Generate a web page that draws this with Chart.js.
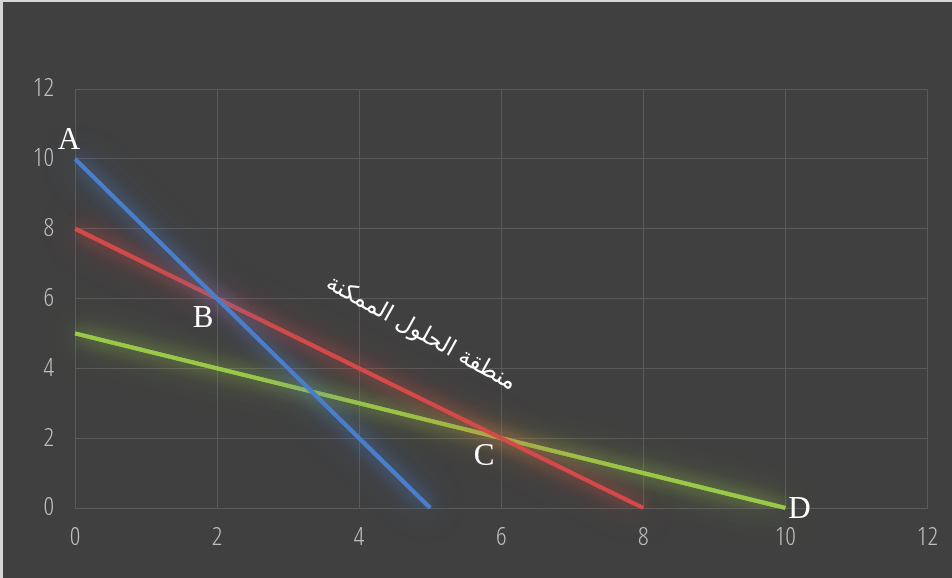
<!DOCTYPE html>
<html>
<head>
<meta charset="utf-8">
<script src="https://cdn.jsdelivr.net/npm/chart.js@4.4.1/dist/chart.umd.min.js"></script>
<style>
  html, body { margin: 0; padding: 0; background: #d6d6d6; }
  #wrap { position: absolute; left: 3px; top: 2px; width: 949px; height: 576px; background: #404040; }
</style>
</head>
<body>
<div id="wrap"><canvas id="c"></canvas></div>
<script>
// Constraint lines, each given by its two intercepts
const blueX = [0, 5];
const blueY = [10, 0];
const redX = [0, 8];
const redY = [8, 0];
const greenX = [0, 10];
const greenY = [5, 0];

// Axis ticks
const xTicks = [0, 2, 4, 6, 8, 10, 12];
const yTicks = [0, 2, 4, 6, 8, 10, 12];

// Corner points of the feasible region
const cornerNames = ['A', 'B', 'C', 'D'];
const cornerX = [0, 2, 6, 10];
const cornerY = [10, 6, 2, 0];

// Region caption and where it sits (data units)
const regionText = 'منطقة الحلول الممكنة';
const regionAt = { x: 4.87, y: 5.0 };

const toPoints = (xs, ys) => xs.map((x, i) => ({ x, y: ys[i] }));

// Soft coloured glow behind each line (two passes for a wider halo)
const glowPlugin = {
  id: 'glow',
  beforeDatasetDraw(chart, args) {
    const ds = chart.data.datasets[args.index];
    const meta = chart.getDatasetMeta(args.index);
    const ctx = chart.ctx;
    ctx.save();
    ctx.shadowColor = ds.glowColor;
    ctx.shadowBlur = 34;
    meta.dataset.draw(ctx, chart.chartArea);
    ctx.shadowBlur = 16;
  },
  afterDatasetDraw(chart) {
    chart.ctx.restore();
  }
};

// Corner letters and the rotated caption
const labelOffsets = [[-6, -18], [-14, 20], [-17, 19], [14, 2]];
const annotatePlugin = {
  id: 'annotate',
  afterDatasetsDraw(chart) {
    const ctx = chart.ctx;
    const xs = chart.scales.x, ys = chart.scales.y;
    ctx.save();
    ctx.fillStyle = '#ffffff';
    ctx.font = '31px "Liberation Serif", "DejaVu Serif", serif';
    ctx.textAlign = 'center';
    ctx.textBaseline = 'middle';
    cornerNames.forEach((name, i) => {
      const px = xs.getPixelForValue(cornerX[i]) + labelOffsets[i][0];
      const py = ys.getPixelForValue(cornerY[i]) + labelOffsets[i][1];
      ctx.fillText(name, px, py);
    });
    const cx = xs.getPixelForValue(regionAt.x);
    const cy = ys.getPixelForValue(regionAt.y);
    ctx.translate(cx, cy);
    ctx.rotate(29 * Math.PI / 180);
    ctx.direction = 'rtl';
    ctx.font = '23px "DejaVu Sans", sans-serif';
    ctx.fillText(regionText, 0, 0);
    ctx.restore();
  }
};

const tickFont = { family: '"Open Sans", "DejaVu Sans Condensed", sans-serif', size: 26, weight: '300 condensed' };
const gridColor = '#5a5a5a';

new Chart(document.getElementById('c'), {
  type: 'scatter',
  data: {
    datasets: [
      { data: toPoints(blueX, blueY), borderColor: '#4a7ecb', glowColor: 'rgba(74,126,203,0.9)' },
      { data: toPoints(redX, redY), borderColor: '#d34a48', glowColor: 'rgba(211,74,72,0.9)' },
      { data: toPoints(greenX, greenY), borderColor: '#9ac848', glowColor: 'rgba(154,200,72,0.9)' }
    ].map(d => Object.assign(d, {
      showLine: true, borderWidth: 4, pointRadius: 0, pointHoverRadius: 0, tension: 0, fill: false
    }))
  },
  options: {
    responsive: true,
    maintainAspectRatio: false,
    animation: false,
    events: [],
    layout: { padding: { top: 87, right: 17, left: 0, bottom: 0 } },
    plugins: { legend: { display: false }, tooltip: { enabled: false } },
    scales: {
      x: {
        type: 'linear', min: 0, max: 12,
        afterBuildTicks: s => { s.ticks = xTicks.map(v => ({ value: v })); },
        afterFit: s => { s.height = 70; },
        grid: { color: gridColor, lineWidth: 1, drawTicks: false },
        border: { color: gridColor },
        ticks: { color: '#bfbfbf', font: tickFont, padding: 14 }
      },
      y: {
        type: 'linear', min: 0, max: 12,
        afterBuildTicks: s => { s.ticks = yTicks.map(v => ({ value: v })); },
        afterFit: s => { s.width = 72; },
        grid: { color: gridColor, lineWidth: 1, drawTicks: false },
        border: { color: gridColor },
        ticks: { color: '#bfbfbf', font: tickFont, padding: 21 }
      }
    }
  },
  plugins: [glowPlugin, annotatePlugin]
});
</script>
</body>
</html>
